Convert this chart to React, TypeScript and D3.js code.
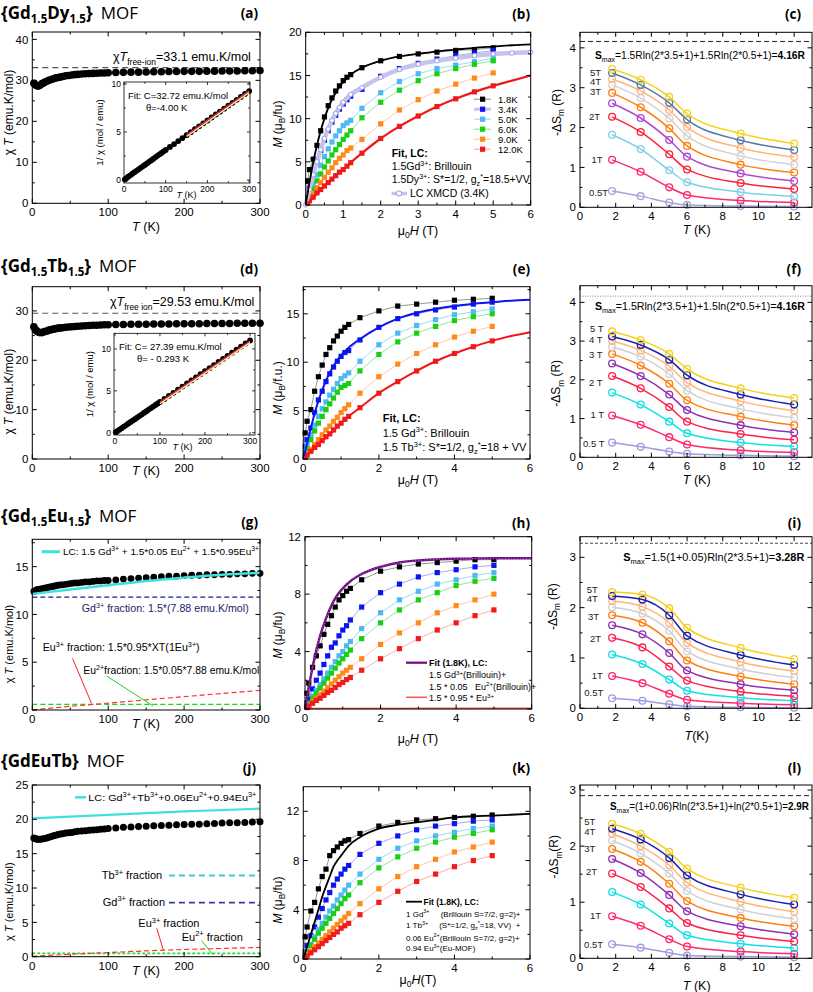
import React from 'react';
import * as d3 from 'd3';

const SANS = "'Liberation Sans', Arial, sans-serif";
const TITLE = "'Open Sans', 'Noto Sans', sans-serif";

// ---------------- χT vs T data ----------------
const chiT_T = [2,4,6,8,10,13,16,19,22,25,28,31,34,37,40,44,48,52,56,60,65,70,75,80,85,90,95,100,110,120,130,140,150,160,170,180,190,200,210,220,230,240,250,260,270,280,290,300];
const chiT_a = [29.3,28.9,28.7,28.6,28.8,29.2,29.5,29.8,30.0,30.2,30.4,30.6,30.7,30.8,30.95,31.1,31.2,31.3,31.4,31.45,31.55,31.6,31.65,31.7,31.75,31.8,31.8,31.85,31.9,31.95,32.0,32.0,32.05,32.1,32.1,32.15,32.15,32.2,32.2,32.2,32.25,32.25,32.3,32.3,32.3,32.35,32.35,32.4];
const chiT_d = [26.8,26.2,25.9,25.7,25.6,25.6,25.8,25.9,26.1,26.2,26.3,26.4,26.5,26.55,26.6,26.7,26.75,26.8,26.85,26.9,26.95,27.0,27.05,27.1,27.1,27.15,27.2,27.2,27.25,27.25,27.3,27.3,27.3,27.35,27.35,27.35,27.4,27.4,27.4,27.4,27.45,27.45,27.45,27.45,27.5,27.5,27.5,27.5];
const chiT_g = [12.4,12.5,12.6,12.6,12.65,12.7,12.75,12.8,12.85,12.9,12.95,13.0,13.05,13.1,13.1,13.15,13.2,13.25,13.3,13.3,13.35,13.4,13.4,13.45,13.5,13.5,13.55,13.55,13.6,13.7,13.75,13.8,13.85,13.9,13.95,14.0,14.0,14.05,14.1,14.1,14.15,14.15,14.2,14.2,14.25,14.25,14.3,14.3];
const chiT_j = [17.3,17.2,17.1,17.1,17.1,17.15,17.2,17.3,17.4,17.5,17.6,17.7,17.8,17.85,17.9,18.0,18.05,18.1,18.2,18.25,18.3,18.35,18.4,18.45,18.5,18.55,18.6,18.65,18.75,18.85,18.9,18.95,19.0,19.05,19.1,19.15,19.2,19.25,19.3,19.3,19.35,19.4,19.45,19.5,19.5,19.55,19.6,19.65];
const freeIon_a = 33.1;
const freeIon_d = 29.53;

// inverse susceptibility insets
const inv_T = [2,5,10,15,20,25,30,35,40,45,50,55,60,65,70,75,80,85,90,95,100,110,120,130,140,150,160,170,180,190,200,210,220,230,240,250,260,270,280,290,300];
const inv_a = [0.07,0.17,0.35,0.5,0.66,0.82,0.97,1.12,1.28,1.43,1.58,1.73,1.9,2.05,2.2,2.37,2.52,2.68,2.83,2.99,3.14,3.45,3.75,4.06,4.37,4.67,4.98,5.29,5.59,5.9,6.2,6.51,6.82,7.12,7.43,7.74,8.04,8.35,8.65,8.96,9.26];
const inv_d = [0.07,0.18,0.37,0.55,0.73,0.92,1.1,1.29,1.47,1.65,1.84,2.02,2.2,2.39,2.57,2.76,2.94,3.12,3.31,3.49,3.67,4.04,4.41,4.77,5.14,5.51,5.88,6.24,6.61,6.98,7.34,7.71,8.08,8.45,8.81,9.18,9.55,9.91,10.28,10.65,11.01];
const invFit_aT = [150,300];
const invFit_a = [4.71,9.29];
const invFit_dT = [100,300];
const invFit_d = [3.66,10.96];

// fractions (g, j)
const frac_T = [0,50,100,150,200,250,300];
const g_LC = [12.15,12.6,13.05,13.5,13.85,14.15,14.35];
const g_Eu3 = [0.02,0.38,0.72,1.06,1.4,1.73,2.05];
const g_Gd = 11.82;
const g_Eu2 = 0.59;
const j_LC = [20.15,20.4,20.65,20.9,21.15,21.35,21.55];
const j_Eu3 = [0.05,0.35,0.6,0.85,1.05,1.2,1.35];
const j_Tb = 11.82;
const j_Gd = 7.88;
const j_Eu2 = 0.47;
const j_fracRange = [180,300];

// ---------------- M vs H data ----------------
const H = [0.05,0.1,0.2,0.3,0.4,0.5,0.6,0.7,0.8,0.9,1.0,1.1,1.2,1.5,2,2.5,3,3.5,4,4.5,5];
const tempLabels = ['1.8K','3.4K','5.0K','6.0K','9.0K','12.0K'];
const b_M = [
  [2.8,4.1,5.3,6.9,8.6,10.2,11.5,12.4,13.2,13.8,14.4,14.8,15.1,15.9,16.7,17.2,17.5,17.7,17.9,18.0,18.2],
  [0.9,1.9,3.5,4.9,6.3,7.5,8.6,9.6,10.4,11.1,11.7,12.2,12.6,13.4,14.9,15.8,16.4,16.9,17.3,17.6,17.9],
  [0.6,1.2,2.4,3.5,4.6,5.6,6.5,7.3,8.0,8.6,9.2,9.5,9.8,11.2,13.0,14.3,15.2,15.8,16.2,16.6,17.0],
  [0.5,1.0,1.9,2.8,3.6,4.4,5.1,5.8,6.4,7.0,7.6,8.1,8.6,10.1,11.9,13.3,14.4,15.2,15.8,16.3,16.7],
  [0.35,0.7,1.3,2.0,2.6,3.2,3.8,4.3,4.9,5.4,5.8,6.3,6.6,7.6,9.4,11.0,12.2,13.2,14.0,14.7,15.3],
  [0.25,0.5,0.9,1.4,1.8,2.2,2.6,3.0,3.4,3.8,4.1,4.5,4.9,6.0,7.7,9.1,10.3,11.4,12.3,13.1,13.8],
];
const e_M = [
  [2.7,3.9,5.1,7.0,8.5,9.7,10.8,11.5,12.2,12.7,13.2,13.6,13.9,14.6,15.3,15.8,16.0,16.2,16.4,16.5,16.6],
  [1.3,2.0,3.2,4.8,6.1,7.0,8.0,8.8,9.5,10.1,10.6,11.0,11.2,12.3,13.6,14.5,15.0,15.4,15.7,16.0,16.2],
  [0.8,1.5,2.5,3.5,4.4,5.2,5.9,6.6,7.2,7.8,8.3,8.6,8.9,10.1,11.8,13.0,13.8,14.4,14.9,15.2,15.5],
  [0.6,1.1,2.0,2.9,3.7,4.4,5.1,5.7,6.3,6.9,7.4,7.6,7.8,9.1,10.8,12.1,13.0,13.7,14.3,14.7,15.0],
  [0.3,0.5,1.0,1.5,2.0,2.5,3.0,3.4,3.9,4.3,4.8,5.2,5.6,6.8,8.5,9.8,10.9,11.8,12.6,13.2,13.7],
  [0.2,0.4,0.8,1.2,1.5,1.9,2.3,2.6,3.0,3.4,3.7,4.1,4.4,5.3,6.8,8.0,9.1,10.1,10.9,11.6,12.2],
];
const h_M = [
  [1.1,1.8,2.9,3.7,4.4,5.2,5.9,6.5,7.1,7.6,7.9,8.2,8.4,9.0,9.6,9.9,10.1,10.2,10.3,10.4,10.4],
  [0.4,0.7,1.4,2.0,2.5,3.1,3.7,4.3,4.6,5.1,5.5,5.8,6.2,7.1,8.1,8.7,9.2,9.5,9.7,9.9,10.0],
  [0.2,0.4,0.9,1.3,1.7,2.1,2.5,2.9,3.3,3.7,4.0,4.4,4.7,5.6,6.7,7.6,8.2,8.7,9.0,9.3,9.5],
  [0.2,0.35,0.75,1.1,1.45,1.8,2.15,2.5,2.85,3.2,3.5,3.8,4.1,4.9,6.0,6.9,7.6,8.1,8.6,8.9,9.1],
  [0.12,0.25,0.5,0.75,1.0,1.25,1.5,1.75,2.0,2.25,2.5,2.7,2.9,3.5,4.5,5.3,6.0,6.7,7.2,7.6,8.0],
  [0.1,0.2,0.4,0.6,0.75,0.95,1.15,1.3,1.5,1.7,1.85,2.05,2.2,2.7,3.5,4.2,4.9,5.5,6.0,6.5,6.9],
];
const k_M = [
  [1.8,2.6,3.9,4.6,5.7,6.7,7.3,8.4,8.8,9.1,9.4,9.6,9.7,10.2,10.8,11.1,11.3,11.4,11.5,11.6,11.7],
  [0.6,1.1,1.9,2.6,3.4,4.1,4.8,5.4,6.0,6.5,6.9,7.3,7.6,8.5,9.4,10.0,10.5,10.8,11.0,11.2,11.3],
  [0.3,0.6,1.2,1.8,2.4,2.9,3.4,3.9,4.3,4.8,5.2,5.6,6.0,6.9,8.1,9.0,9.6,10.0,10.3,10.6,10.8],
  [0.3,0.55,1.1,1.6,2.1,2.5,2.9,3.3,3.7,4.1,4.5,4.9,5.2,6.2,7.4,8.3,9.0,9.5,9.9,10.2,10.5],
  [0.2,0.35,0.65,1.0,1.3,1.6,1.9,2.2,2.5,2.8,3.1,3.4,3.7,4.5,5.7,6.7,7.5,8.1,8.7,9.1,9.5],
  [0.13,0.25,0.5,0.75,1.0,1.25,1.5,1.75,2.0,2.2,2.5,2.7,2.9,3.6,4.6,5.5,6.3,6.9,7.5,8.0,8.4],
];
const fitH = [0,0.1,0.2,0.3,0.4,0.5,0.6,0.7,0.8,0.9,1.0,1.2,1.5,2,2.5,3,3.5,4,4.5,5,5.5,6];
const b_fit18 = [0,2.6,4.9,6.9,8.6,10.0,11.2,12.2,13.0,13.7,14.2,15.1,15.9,16.7,17.2,17.5,17.8,18.0,18.2,18.35,18.5,18.6];
const b_fit120 = [0,0.4,0.85,1.3,1.7,2.2,2.6,3.0,3.4,3.8,4.1,4.9,6.0,7.7,9.1,10.3,11.4,12.3,13.1,13.8,14.4,15.0];
const b_xmcd = [0,1.8,3.5,5.0,6.4,7.7,8.8,9.8,10.6,11.3,11.9,12.8,13.6,14.8,15.7,16.3,16.7,17.0,17.3,17.5,17.6,17.7];
const e_fit34 = [0,1.6,3.2,4.7,6.0,7.1,8.1,8.9,9.6,10.2,10.7,11.5,12.4,13.6,14.5,15.1,15.5,15.8,16.05,16.2,16.35,16.45];
const e_fit120 = [0,0.4,0.75,1.1,1.5,1.9,2.2,2.6,2.9,3.3,3.7,4.4,5.3,6.8,8.0,9.1,10.1,10.9,11.6,12.2,12.7,13.1];
const h_fit18 = [0,1.5,2.9,4.1,5.1,5.9,6.6,7.2,7.7,8.1,8.4,8.9,9.4,9.9,10.2,10.35,10.42,10.46,10.48,10.5,10.5,10.5];
const k_fit18 = [0,1.0,2.0,3.0,4.0,5.05,5.9,6.7,7.5,8.0,8.4,9.2,9.9,10.6,10.9,11.1,11.3,11.5,11.6,11.65,11.72,11.8];
const h_eu3H = [0,6];
const h_eu3 = [0.03,0.06];

// ---------------- entropy data ----------------
const fieldLabels = ['0.5T','1T','1.5T','2T','2.5T','3T','3.5T','4T','4.5T','5T'];
const S_T = [1.8,3.4,5,6,9,12];
const S_T_i = [1.8,3.5,5,6,9,12];
const S_c = [
  [0.41,0.28,0.12,0.06,0.03,0.02],[1.19,0.89,0.5,0.31,0.17,0.12],[1.82,1.46,0.93,0.63,0.38,0.27],
  [2.27,1.89,1.33,0.95,0.61,0.46],[2.61,2.24,1.69,1.27,0.85,0.66],[2.87,2.51,1.98,1.54,1.07,0.87],
  [3.07,2.74,2.23,1.79,1.29,1.07],[3.22,2.92,2.44,2.01,1.49,1.26],[3.37,3.07,2.62,2.2,1.68,1.44],
  [3.47,3.2,2.77,2.35,1.85,1.6],
];
const S_f = [
  [0.38,0.27,0.15,0.09,0.05,0.03],[1.08,0.84,0.52,0.33,0.18,0.13],[1.67,1.36,0.92,0.62,0.38,0.28],
  [2.1,1.78,1.3,0.92,0.6,0.45],[2.42,2.1,1.62,1.22,0.83,0.64],[2.67,2.37,1.9,1.47,1.05,0.83],
  [2.85,2.6,2.15,1.72,1.25,1.02],[3.0,2.76,2.35,1.93,1.45,1.2],[3.12,2.9,2.52,2.12,1.62,1.36],
  [3.25,3.03,2.67,2.28,1.78,1.53],
];
const S_i = [
  [0.2,0.15,0.08,0.04,0.02,0.01],[0.64,0.5,0.29,0.17,0.1,0.07],[1.07,0.88,0.57,0.35,0.21,0.15],
  [1.4,1.21,0.83,0.55,0.33,0.24],[1.65,1.47,1.1,0.75,0.48,0.36],[1.85,1.7,1.33,0.95,0.63,0.48],
  [2.01,1.88,1.54,1.13,0.78,0.61],[2.13,2.02,1.7,1.3,0.92,0.74],[2.23,2.16,1.85,1.44,1.06,0.86],
  [2.31,2.26,1.99,1.6,1.2,0.98],
];
const S_l = [
  [0.25,0.19,0.1,0.05,0.03,0.02],[0.75,0.58,0.34,0.21,0.12,0.08],[1.18,0.96,0.62,0.41,0.26,0.18],
  [1.51,1.27,0.89,0.63,0.41,0.3],[1.77,1.52,1.13,0.84,0.57,0.43],[1.95,1.72,1.33,1.02,0.72,0.57],
  [2.1,1.87,1.51,1.2,0.87,0.7],[2.22,2.0,1.66,1.35,1.01,0.83],[2.31,2.12,1.79,1.48,1.14,0.96],
  [2.4,2.22,1.9,1.6,1.26,1.08],
];
const Smax_c = 4.16, Smax_f = 4.16, Smax_i = 3.28, Smax_l = 2.9;

// ---------------- styles ----------------
const M_COL = ['#000000', '#0b16ee', '#4db9f4', '#16cf16', '#ff8a1a', '#f21b1b'];
const M_LINE = ['#8a8a8a', '#a0a0f0', '#8fd8f4', '#86e486', '#ffc29a', '#ffa0a0'];
const S_COL_C = ['#a4a4dc', '#ff2a6a', '#80d0e8', '#ff2038', '#b048d0', '#ff8010', '#d2d2d2', '#ffb47c', '#587aa8', '#f5d423'];
const S_COL = ['#9c9ce0', '#ff2a6a', '#10e0e8', '#ff2050', '#9030b0', '#ff8010', '#d0d0d0', '#ffb47c', '#1a20a8', '#f5d020'];

// ---------------- helpers ----------------
function parse(s: string) {
  const segs: any[] = [];
  const re = /([_^~!])\{([^}]*)\}/g;
  let last = 0;
  let m: any;
  while ((m = re.exec(s))) {
    if (m.index > last) segs.push({ t: s.slice(last, m.index) });
    const k = m[1];
    segs.push({ t: m[2], sub: k === '_', sup: k === '^', it: k === '~', b: k === '!' });
    last = re.lastIndex;
  }
  if (last < s.length) segs.push({ t: s.slice(last) });
  return segs;
}

function RT({ x, y, s, fs = 12, anchor = 'start', weight = 'normal', fill = '#000', family = SANS, rot = false, tl }: any) {
  const segs = parse(s);
  let cur = 0;
  const spans = segs.map((g: any, i: number) => {
    const tgt = g.sub ? fs * 0.3 : g.sup ? -fs * 0.38 : 0;
    const dy = tgt - cur;
    cur = tgt;
    return (
      <tspan key={i} dy={dy || undefined} fontSize={g.sub || g.sup ? fs * 0.68 : fs}
        fontStyle={g.it ? 'italic' : undefined} fontWeight={g.b ? 'bold' : undefined}>{g.t}</tspan>
    );
  });
  return (
    <text x={x} y={y} fontSize={fs} fontFamily={family} fontWeight={weight} textAnchor={anchor} fill={fill}
      transform={rot ? `rotate(-90 ${x} ${y})` : undefined}
      textLength={tl} lengthAdjust={tl ? 'spacingAndGlyphs' : undefined}
      style={{ whiteSpace: 'pre' }}>{spans}</text>
  );
}

function Frame({ xs, ys, box, xt, xm = [], yt, ym = [], fs = 11.5, xf = String, yf = String, tl = 4.5, ml = 2.5, xOff = 13, yOff = 4, sw = 1 }: any) {
  const { l, r, t, b } = box;
  const els: any[] = [];
  const addX = (v: number, len: number, k: string) => {
    const p = xs(v);
    els.push(<line key={k + 'b'} x1={p} x2={p} y1={b} y2={b - len} />);
    els.push(<line key={k + 't'} x1={p} x2={p} y1={t} y2={t + len} />);
  };
  const addY = (v: number, len: number, k: string) => {
    const p = ys(v);
    els.push(<line key={k + 'l'} x1={l} x2={l + len} y1={p} y2={p} />);
    els.push(<line key={k + 'r'} x1={r} x2={r - len} y1={p} y2={p} />);
  };
  xt.forEach((v: number, i: number) => addX(v, tl, 'xt' + i));
  xm.forEach((v: number, i: number) => addX(v, ml, 'xm' + i));
  yt.forEach((v: number, i: number) => addY(v, tl, 'yt' + i));
  ym.forEach((v: number, i: number) => addY(v, ml, 'ym' + i));
  return (
    <g>
      <rect x={l} y={t} width={r - l} height={b - t} fill="none" stroke="#000" strokeWidth={sw} />
      <g stroke="#000" strokeWidth={sw}>{els}</g>
      <g fontSize={fs} fontFamily={SANS} fill="#000">
        {xt.map((v: number, i: number) => (
          <text key={'xl' + i} x={xs(v)} y={b + xOff} textAnchor="middle">{xf(v)}</text>
        ))}
        {yt.map((v: number, i: number) => (
          <text key={'yl' + i} x={l - yOff} y={ys(v) + fs * 0.36} textAnchor="end">{yf(v)}</text>
        ))}
      </g>
    </g>
  );
}

function Title({ y, a, b, sub = true }: any) {
  return (
    <text x={1} y={y} fontFamily={TITLE} fontSize={17} fill="#000">
      <tspan fontWeight="bold">{'{' + a}</tspan>
      {sub && <tspan fontWeight="bold" fontSize={11.5} dy={4}>1.5</tspan>}
      <tspan fontWeight="bold" dy={sub ? -4 : undefined}>{b}</tspan>
      {sub && <tspan fontWeight="bold" fontSize={11.5} dy={4}>1.5</tspan>}
      <tspan fontWeight="bold" dy={sub ? -4 : undefined}>{'}'}</tspan>
      <tspan dx={8}>MOF</tspan>
    </text>
  );
}

function PLabel({ x, y, s }: any) {
  return <text x={x} y={y} textAnchor="end" fontFamily={TITLE} fontWeight="bold" fontSize={13.5}>{s}</text>;
}

function Dots({ xs, ys, X, Y, r = 3.8, fill = '#000' }: any) {
  return <g fill={fill}>{Y.map((v: number, i: number) => <circle key={i} cx={xs(X[i])} cy={ys(v)} r={r} />)}</g>;
}

function Squares({ xs, ys, X, Y, color, s = 5.2 }: any) {
  return (
    <g fill={color}>
      {Y.map((v: number, i: number) => <rect key={i} x={xs(X[i]) - s / 2} y={ys(v) - s / 2} width={s} height={s} />)}
    </g>
  );
}

function MSeries({ xs, ys, data, lw = 0.9 }: any) {
  const X0 = [0].concat(H);
  const ln = d3.line<number>().x((_, i) => xs(X0[i])).y((d) => ys(d));
  return (
    <g>
      {data.map((s: number[], k: number) => (
        <path key={'l' + k} d={ln([0].concat(s)) as string} fill="none" stroke={M_LINE[k]} strokeWidth={lw} />
      ))}
      {data.map((s: number[], k: number) => <Squares key={'s' + k} xs={xs} ys={ys} X={H} Y={s} color={M_COL[k]} />)}
    </g>
  );
}

function fitPath(xs: any, ys: any, X: number[], Y: number[]) {
  return d3.line<number>().x((_, i) => xs(X[i])).y((d) => ys(d)).curve(d3.curveMonotoneX)(Y) as string;
}

// ---------------- panels ----------------
function PanelChi({ box, yMax, yt, ym, children, yLabY, xLabY, yLabFs = 12 }: any) {
  const xs = d3.scaleLinear([0, 300], [box.l, box.r]);
  const ys = d3.scaleLinear([0, yMax], [box.b, box.t]);
  return (
    <g>
      {children && children(xs, ys)}
      <Frame xs={xs} ys={ys} box={box} xt={[0, 100, 200, 300]} xm={[50, 150, 250]} yt={yt} ym={ym} />
      <RT x={13} y={yLabY} s={'χ ~{T} (emu.K/mol)'} fs={yLabFs} anchor="middle" rot />
      <RT x={146} y={xLabY} s={'~{T} (K)'} fs={12.5} anchor="middle" />
    </g>
  );
}

function Inset({ box, xd, yd, X, Y, FX, FY, texts }: any) {
  const xs = d3.scaleLinear(xd, [box.l, box.r]);
  const ys = d3.scaleLinear(yd, [box.b, box.t]);
  return (
    <g>
      <rect x={box.l} y={box.t} width={box.r - box.l} height={box.b - box.t} fill="#fff" />
      <Dots xs={xs} ys={ys} X={X} Y={Y} r={2.9} />
      <path d={fitPath(xs, ys, FX, FY)} transform="translate(0,1.6)" stroke="#f4ee8a" strokeWidth={1.6} fill="none" />
      <path d={fitPath(xs, ys, FX, FY)} stroke="#e8205e" strokeWidth={1.3} fill="none" />
      <Frame xs={xs} ys={ys} box={box} xt={[0, 100, 200, 300]} xm={[50, 150, 250]} yt={[0, 5, 10]} ym={[2.5, 7.5]}
        fs={8.5} tl={3} ml={1.8} xOff={8.5} yOff={3} sw={0.8} />
      <RT x={box.l - 21} y={(box.t + box.b) / 2} s={'1/ χ (mol / emu)'} fs={9.5} anchor="middle" rot />
      <RT x={xs(150)} y={box.b + 15} s={'~{T} (K)'} fs={9} anchor="middle" />
      {texts}
    </g>
  );
}

function SPanel({ box, yMax, T, S, colors, smax, dash, dashColor, dashW = 1, yt, ym, text, textX, textY, textW, labels, yLabX, yLabY, xLabY, yLab, xLab }: any) {
  const xs = d3.scaleLinear([0, 13], [box.l, box.r]);
  const ys = d3.scaleLinear([0, yMax], [box.b, box.t]);
  const ln = d3.line<number>().x((_, i) => xs(T[i])).y((d) => ys(d)).curve(d3.curveMonotoneX);
  return (
    <g>
      <line x1={box.l} x2={box.r} y1={ys(smax)} y2={ys(smax)} stroke={dashColor} strokeDasharray={dash} strokeWidth={dashW} />
      {S.map((s: number[], k: number) => (
        <path key={'p' + k} d={ln(s) as string} fill="none" stroke={colors[k]} strokeWidth={1.5} />
      ))}
      {S.map((s: number[], k: number) => (
        <g key={'c' + k} fill="none" stroke={colors[k]} strokeWidth={1.3}>
          {s.map((v: number, i: number) => <circle key={i} cx={xs(T[i])} cy={ys(v)} r={3.4} />)}
        </g>
      ))}
      <Frame xs={xs} ys={ys} box={box} xt={[0, 2, 4, 6, 8, 10, 12]} xm={[1, 3, 5, 7, 9, 11]} yt={yt} ym={ym} />
      <RT x={textX} y={textY} s={text} fs={10} tl={textW} />
      {labels.map((lb: any, i: number) => (
        <text key={i} x={lb[1]} y={lb[2]} fontSize={9.5} fontFamily={SANS} fill="#222" style={{ whiteSpace: 'pre' }}>{lb[0]}</text>
      ))}
      <RT x={yLabX} y={yLabY} s={yLab} fs={12} anchor="middle" rot />
      <RT x={696.7} y={xLabY} s={xLab} fs={12.5} anchor="middle" />
    </g>
  );
}

function MFrame({ box, xs, ys, xt, xm, yt, ym, yLab, yLabY, xLab, xLabY }: any) {
  return (
    <g>
      <Frame xs={xs} ys={ys} box={box} xt={xt} xm={xm} yt={yt} ym={ym} />
      <RT x={281.7} y={yLabY} s={yLab} fs={12} anchor="middle" rot />
      <RT x={418} y={xLabY} s={xLab} fs={12.5} anchor="middle" />
    </g>
  );
}

export default function App() {
  // ---- boxes
  const A = { l: 32.3, r: 260, t: 32, b: 203.3 };
  const B = { l: 305.7, r: 530.7, t: 32.3, b: 205 };
  const C = { l: 580, r: 812, t: 32.3, b: 207.3 };
  const D = { l: 32.3, r: 260, t: 286.7, b: 459 };
  const E = { l: 303.3, r: 530, t: 286.7, b: 459 };
  const F = { l: 580, r: 812, t: 285.7, b: 457.3 };
  const G = { l: 32.3, r: 260, t: 539.3, b: 710 };
  const Hb = { l: 305, r: 531.7, t: 536.7, b: 709 };
  const I = { l: 580, r: 812, t: 536.7, b: 708.3 };
  const J = { l: 32.3, r: 260, t: 785, b: 956.7 };
  const K = { l: 303.3, r: 530, t: 786.7, b: 959 };
  const L = { l: 580, r: 812, t: 785, b: 958.3 };

  // M scales
  const bx = d3.scaleLinear([0, 6], [B.l, B.r]); const by = d3.scaleLinear([0, 20], [B.b, B.t]);
  const ex = d3.scaleLinear([0, 6], [E.l, E.r]); const ey = d3.scaleLinear([0, 17.8], [E.b, E.t]);
  const hx = d3.scaleLinear([0, 6], [Hb.l, Hb.r]); const hy = d3.scaleLinear([0, 12], [Hb.b, Hb.t]);
  const kx = d3.scaleLinear([0, 6], [K.l, K.r]); const ky = d3.scaleLinear([0, 14], [K.b, K.t]);

  const legYs = [102.5, 112.5, 122.5, 132.5, 142.5, 152.5];

  return (
    <svg width={813} height={992} viewBox="0 0 813 992" style={{ position: 'absolute', left: 0, top: 0 }} fontFamily={SANS}>
      <rect width={813} height={992} fill="#fff" />

      {/* ===== Titles & panel labels ===== */}
      <Title y={19} a="Gd" b="Dy" />
      <Title y={272} a="Gd" b="Tb" />
      <Title y={522} a="Gd" b="Eu" />
      <Title y={767} a="GdEuTb" b="" sub={false} />
      <PLabel x={258} y={18} s="(a)" /><PLabel x={530} y={18.5} s="(b)" /><PLabel x={801} y={18.5} s="(c)" />
      <PLabel x={258} y={274} s="(d)" /><PLabel x={530} y={274} s="(e)" /><PLabel x={801} y={274} s="(f)" />
      <PLabel x={258} y={526.5} s="(g)" /><PLabel x={530} y={528} s="(h)" /><PLabel x={801} y={528} s="(i)" />
      <PLabel x={256} y={773} s="(j)" /><PLabel x={530} y={773} s="(k)" /><PLabel x={801} y={773} s="(l)" />

      {/* ===== (a) ===== */}
      <PanelChi box={A} yMax={41.8} yt={[0, 10, 20, 30, 40]} ym={[5, 15, 25, 35]} yLabY={112.5} xLabY={231}>
        {(xs: any, ys: any) => (
          <g>
            <line x1={A.l} x2={A.r} y1={ys(freeIon_a)} y2={ys(freeIon_a)} stroke="#555" strokeDasharray="6,4" strokeWidth={1.1} />
            <Dots xs={xs} ys={ys} X={chiT_T} Y={chiT_a} r={3.8} />
            <RT x={113} y={61} s={'χ~{T}_{free-ion}=33.1 emu.K/mol'} fs={12.5} />
          </g>
        )}
      </PanelChi>
      <Inset box={{ l: 124, r: 250, t: 82, b: 183 }} xd={[0, 302]} yd={[-0.3, 10.2]} X={inv_T} Y={inv_a} FX={invFit_aT} FY={invFit_a}
        texts={<g>
          <RT x={128} y={99} s={'Fit: C=32.72 emu.K/mol'} fs={9.5} />
          <RT x={146} y={110.5} s={'θ=-4.00 K'} fs={9.5} />
        </g>} />

      {/* ===== (b) ===== */}
      <MSeries xs={bx} ys={by} data={b_M} />
      <path d={fitPath(bx, by, fitH, b_xmcd)} fill="none" stroke="#c4c4ee" strokeWidth={4.5} />
      <g fill="#fff" stroke="#8d8dd6" strokeWidth={0.8}>
        {b_xmcd.map((v, i) => <circle key={i} cx={bx(fitH[i])} cy={by(v)} r={2.2} />)}
      </g>
      <path d={fitPath(bx, by, fitH, b_fit18)} fill="none" stroke="#000" strokeWidth={1.8} />
      <path d={fitPath(bx, by, fitH, b_fit120)} fill="none" stroke="#f01818" strokeWidth={2.2} />
      <MFrame box={B} xs={bx} ys={by} xt={[0, 1, 2, 3, 4, 5, 6]} xm={[0.5, 1.5, 2.5, 3.5, 4.5, 5.5]} yt={[0, 5, 10, 15, 20]} ym={[2.5, 7.5, 12.5, 17.5]}
        yLab={'~{M} (μ_{B}/fu)'} yLabY={124} xLab={'μ_{0}~{H} (T)'} xLabY={234.5} />
      {tempLabels.map((t, i) => (
        <g key={t}>
          <line x1={474} x2={491} y1={legYs[i] - 3.3} y2={legYs[i] - 3.3} stroke={i === 1 ? '#c4c4ee' : M_LINE[i]} strokeWidth={i === 1 ? 3 : 1} />
          <rect x={480} y={legYs[i] - 5.9} width={5.2} height={5.2} fill={M_COL[i]} />
          <text x={498} y={legYs[i]} fontSize={9.5}>{t}</text>
        </g>
      ))}
      <RT x={391.7} y={157} s={'Fit, LC:'} fs={10.5} weight="bold" />
      <RT x={391.7} y={170} s={'1.5Gd^{3+}: Brillouin'} fs={10.5} />
      <RT x={391.7} y={182.5} s={'1.5Dy^{3+}: S*=1/2, g_{z}^{*}=18.5+VV'} fs={10.5} />
      <line x1={391.5} x2={407} y1={193.5} y2={193.5} stroke="#c4c4ee" strokeWidth={3.5} />
      <circle cx={399} cy={193.5} r={2.6} fill="#fff" stroke="#8d8dd6" strokeWidth={0.9} />
      <RT x={410} y={197} s={'LC XMCD (3.4K)'} fs={10.5} />

      {/* ===== (c) ===== */}
      <SPanel box={C} yMax={4.39} T={S_T} S={S_c} colors={S_COL_C} smax={Smax_c} dash="5,3" dashColor="#222"
        yt={[0, 1, 2, 3, 4]} ym={[0.5, 1.5, 2.5, 3.5]}
        text={'!{S}_{max}=1.5Rln(2*3.5+1)+1.5Rln(2*0.5+1)=!{4.16R}'} textX={595} textY={59} textW={210}
        labels={[['5T', 590, 75.5], ['4T', 590, 85], ['3T', 590, 94.5], ['2T', 589, 120], ['1T', 591.5, 163], ['0.5T', 589, 196]]}
        yLabX={560.7} yLabY={112.5} xLabY={233.5} yLab={'-ΔS_{m} (R)'} xLab={'~{T} (K)'} />

      {/* ===== (d) ===== */}
      <PanelChi box={D} yMax={34.9} yt={[0, 10, 20, 30]} ym={[5, 15, 25]} yLabY={391.7} xLabY={474.5}>
        {(xs: any, ys: any) => (
          <g>
            <line x1={D.l} x2={D.r} y1={ys(freeIon_d)} y2={ys(freeIon_d)} stroke="#555" strokeDasharray="6,4" strokeWidth={1.1} />
            <Dots xs={xs} ys={ys} X={chiT_T} Y={chiT_d} r={3.8} />
            <RT x={110} y={306} s={'χ~{T}_{free ion}=29.53 emu.K/mol'} fs={12.5} />
          </g>
        )}
      </PanelChi>
      <Inset box={{ l: 114, r: 255, t: 333.3, b: 435 }} xd={[-2, 311]} yd={[-0.27, 11.87]} X={inv_T} Y={inv_d} FX={invFit_dT} FY={invFit_d}
        texts={<g>
          <RT x={119} y={349.5} s={'Fit: C= 27.39 emu.K/mol'} fs={9.5} />
          <RT x={137} y={361.5} s={'θ= - 0.293 K'} fs={9.5} />
        </g>} />

      {/* ===== (e) ===== */}
      <MSeries xs={ex} ys={ey} data={e_M} />
      <path d={fitPath(ex, ey, fitH, e_fit34)} fill="none" stroke="#0b16ee" strokeWidth={2} />
      <path d={fitPath(ex, ey, fitH, e_fit120)} fill="none" stroke="#f01818" strokeWidth={2} />
      <MFrame box={E} xs={ex} ys={ey} xt={[0, 2, 4, 6]} xm={[1, 3, 5]} yt={[0, 5, 10, 15]} ym={[2.5, 7.5, 12.5, 17.5]}
        yLab={'~{M} (μ_{B}/f.u.)'} yLabY={388} xLab={'μ_{0}~{H} (T)'} xLabY={483.5} />
      <RT x={382.7} y={422} s={'Fit, LC:'} fs={11} weight="bold" />
      <RT x={382.7} y={436.5} s={'1.5 Gd^{3+}: Brillouin'} fs={11} />
      <RT x={382.7} y={451} s={'1.5 Tb^{3+}: S*=1/2, g_{z}^{*}=18 + VV'} fs={11} />

      {/* ===== (f) ===== */}
      <SPanel box={F} yMax={4.43} T={S_T} S={S_f} colors={S_COL} smax={Smax_f} dash="1,1.5" dashColor="#888"
        yt={[0, 1, 2, 3, 4]} ym={[0.5, 1.5, 2.5, 3.5]}
        text={'!{S}_{max}=1.5Rln(2*3.5+1)+1.5ln(2*0.5+1)=!{4.16R}'} textX={595} textY={309.5} textW={210}
        labels={[['5 T', 590, 332], ['4 T', 589, 343], ['3 T', 589, 358], ['2 T', 589, 386], ['1 T', 590.5, 418], ['0.5 T', 583, 447]]}
        yLabX={560} yLabY={383.3} xLabY={484} yLab={'-ΔS_{m} (R)'} xLab={'~{T} (K)'} />

      {/* ===== (g) ===== */}
      <PanelChi box={G} yMax={17.86} yt={[0, 5, 10, 15]} ym={[2.5, 7.5, 12.5, 17.5]} yLabY={644} xLabY={727.5} yLabFs={11}>
        {(xs: any, ys: any) => (
          <g>
            <line x1={G.l} x2={G.r} y1={ys(g_Gd)} y2={ys(g_Gd)} stroke="#1c1c8c" strokeDasharray="5,3" strokeWidth={1.2} />
            <line x1={G.l} x2={G.r} y1={ys(g_Eu2)} y2={ys(g_Eu2)} stroke="#10e010" strokeDasharray="5,3" strokeWidth={1.3} />
            <path d={fitPath(xs, ys, frac_T, g_Eu3)} fill="none" stroke="#ff3030" strokeDasharray="5,3" strokeWidth={1.2} />
            <Dots xs={xs} ys={ys} X={chiT_T} Y={chiT_g} r={3.4} />
            <path d={fitPath(xs, ys, frac_T, g_LC)} fill="none" stroke="#3ee0e0" strokeWidth={2.5} />
            <line x1={xs(53)} y1={ys(5.4)} x2={xs(78)} y2={ys(0.7)} stroke="#ff2020" strokeWidth={1} />
            <line x1={xs(98)} y1={ys(3.56)} x2={xs(159)} y2={ys(0.42)} stroke="#20d020" strokeWidth={1} />
            <line x1={41.7} x2={60} y1={551.7} y2={551.7} stroke="#3ee0e0" strokeWidth={3} />
            <RT x={63} y={555} s={'LC: 1.5 Gd^{3+} + 1.5*0.05 Eu^{2+} + 1.5*0.95Eu^{3+}'} fs={9.5} tl={196} />
            <RT x={81.7} y={612} s={'Gd^{3+} fraction: 1.5*(7.88 emu.K/mol)'} fs={10} fill="#1c1c6c" tl={167} />
            <RT x={42.7} y={650.5} s={'Eu^{3+} fraction: 1.5*0.95*XT(1Eu^{3+})'} fs={10} tl={157} />
            <RT x={83.3} y={674} s={'Eu^{2+}fraction: 1.5*0.05*7.88 emu.K/mol'} fs={10} tl={176} />
          </g>
        )}
      </PanelChi>

      {/* ===== (h) ===== */}
      <path d={fitPath(hx, hy, h_eu3H, h_eu3)} fill="none" stroke="#ff5050" strokeWidth={1.5} />
      <MSeries xs={hx} ys={hy} data={h_M} />
      <path d={fitPath(hx, hy, fitH, h_fit18)} fill="none" stroke="#6a0a80" strokeWidth={2.4} />
      <path d={fitPath(hx, hy, fitH, h_fit18)} fill="none" stroke="#c080d0" strokeWidth={0.8} strokeDasharray="1,2" />
      <MFrame box={Hb} xs={hx} ys={hy} xt={[0, 2, 4, 6]} xm={[1, 3, 5]} yt={[0, 4, 8, 12]} ym={[2, 6, 10]}
        yLab={'~{M} (μ_{B}/fu)'} yLabY={635} xLab={'μ_{0}~{H} (T)'} xLabY={742.5} />
      <line x1={406} x2={427} y1={662.7} y2={662.7} stroke="#6a0a80" strokeWidth={2.2} />
      <RT x={429} y={666} s={'Fit (1.8K), LC:'} fs={9} weight="bold" />
      <RT x={429} y={678} s={'1.5 Gd^{3+}(Brillouin)+'} fs={9} />
      <RT x={429} y={689.5} s={'1.5 * 0.05   Eu^{2+}(Brillouin)+'} fs={9} />
      <line x1={406} x2={427} y1={697.3} y2={697.3} stroke="#ff5050" strokeWidth={1.5} />
      <RT x={429} y={701} s={'1.5 * 0.95 * Eu^{3+}'} fs={9} />

      {/* ===== (i) ===== */}
      <SPanel box={I} yMax={3.41} T={S_T_i} S={S_i} colors={S_COL} smax={Smax_i} dash="3,2" dashColor="#444"
        yt={[0, 1, 2, 3]} ym={[0.5, 1.5, 2.5]}
        text={'!{S}_{max}=1.5(1+0.05)Rln(2*3.5+1)=!{3.28R}'} textX={623.3} textY={561} textW={181}
        labels={[['5T', 586.7, 592.5], ['4T', 586.7, 602], ['3T', 588, 620], ['2T', 590, 642], ['1T', 591.7, 679], ['0.5T', 584.3, 696]]}
        yLabX={556.7} yLabY={606.7} xLabY={739.5} yLab={'-ΔS_{m} (R)'} xLab={'~{T}(K)'} />

      {/* ===== (j) ===== */}
      <PanelChi box={J} yMax={25} yt={[0, 5, 10, 15, 20, 25]} ym={[2.5, 7.5, 12.5, 17.5, 22.5]} yLabY={901.7} xLabY={974.5} yLabFs={11}>
        {(xs: any, ys: any) => (
          <g>
            <line x1={xs(j_fracRange[0])} x2={xs(j_fracRange[1])} y1={ys(j_Tb)} y2={ys(j_Tb)} stroke="#40c8d8" strokeDasharray="6,4" strokeWidth={1.8} />
            <line x1={xs(j_fracRange[0])} x2={xs(j_fracRange[1])} y1={ys(j_Gd)} y2={ys(j_Gd)} stroke="#3838a8" strokeDasharray="6,4" strokeWidth={1.8} />
            <line x1={J.l} x2={J.r} y1={ys(j_Eu2)} y2={ys(j_Eu2)} stroke="#30d830" strokeDasharray="3,2" strokeWidth={1.8} />
            <path d={fitPath(xs, ys, frac_T, j_Eu3)} fill="none" stroke="#ff3030" strokeDasharray="5,3" strokeWidth={1.2} />
            <path d={fitPath(xs, ys, frac_T, j_LC)} fill="none" stroke="#3ee0e0" strokeWidth={2.2} />
            <Dots xs={xs} ys={ys} X={chiT_T} Y={chiT_j} r={3.5} />
            <line x1={xs(164)} y1={ys(4.13)} x2={xs(172.6)} y2={ys(0.98)} stroke="#ff2020" strokeWidth={1} />
            <line x1={xs(223)} y1={ys(2.33)} x2={xs(238.5)} y2={ys(0.25)} stroke="#20d020" strokeWidth={1} />
            <line x1={75} x2={86} y1={797.3} y2={797.3} stroke="#3ee0e0" strokeWidth={2.5} />
            <RT x={88.3} y={801} s={'LC: Gd^{3+}+Tb^{3+}+0.06Eu^{2+}+0.94Eu^{3+}'} fs={9.5} tl={168} />
            <RT x={101.7} y={879} s={'Tb^{3+} fraction'} fs={11} />
            <RT x={102.7} y={905.5} s={'Gd^{3+} fraction'} fs={11} />
            <RT x={138.3} y={927} s={'Eu^{3+} fraction'} fs={11} />
            <RT x={181.7} y={940.5} s={'Eu^{2+} fraction'} fs={11} />
          </g>
        )}
      </PanelChi>

      {/* ===== (k) ===== */}
      <MSeries xs={kx} ys={ky} data={k_M} />
      <path d={fitPath(kx, ky, fitH, k_fit18)} fill="none" stroke="#000" strokeWidth={1.8} />
      <MFrame box={K} xs={kx} ys={ky} xt={[0, 2, 4, 6]} xm={[1, 3, 5]} yt={[0, 4, 8, 12]} ym={[2, 6, 10]}
        yLab={'~{M} (μ_{B}/fu)'} yLabY={900} xLab={'μ_{0}~{H}(T)'} xLabY={983.5} />
      <line x1={406} x2={422} y1={901.7} y2={901.7} stroke="#000" strokeWidth={1.8} />
      <RT x={423.5} y={905} s={'Fit (1.8K), LC:'} fs={8.5} weight="bold" />
      <RT x={406} y={916.5} s={'1 Gd^{3+}     (Brillouin S=7/2, g=2)+'} fs={8} />
      <RT x={406} y={928} s={'1 Tb^{3+}     (S*=1/2, g_{z}^{*}=18, VV)  +'} fs={8} />
      <RT x={406} y={940.5} s={'0.06 Eu^{2+}(Brillouin S=7/2, g=2)+'} fs={8} />
      <RT x={406} y={951} s={'0.94 Eu^{3+}(Eu-MOF)'} fs={8} />

      {/* ===== (l) ===== */}
      <SPanel box={L} yMax={3.09} T={S_T} S={S_l} colors={S_COL} smax={Smax_l} dash="5,3" dashColor="#222"
        yt={[0, 1, 2, 3]} ym={[0.5, 1.5, 2.5]}
        text={'!{S}_{max}=(1+0.06)Rln(2*3.5+1)+ln(2*0.5+1)=!{2.9R}'} textX={610} textY={809.5} textW={199}
        labels={[['5T', 584.3, 825], ['4T', 584.3, 835], ['3T', 584.3, 852], ['2T', 586, 875], ['1T', 590, 919], ['0.5T', 584, 948]]}
        yLabX={558.3} yLabY={856.7} xLabY={989.5} yLab={'-ΔS_{m}(R)'} xLab={'~{T} (K)'} />
    </svg>
  );
}
